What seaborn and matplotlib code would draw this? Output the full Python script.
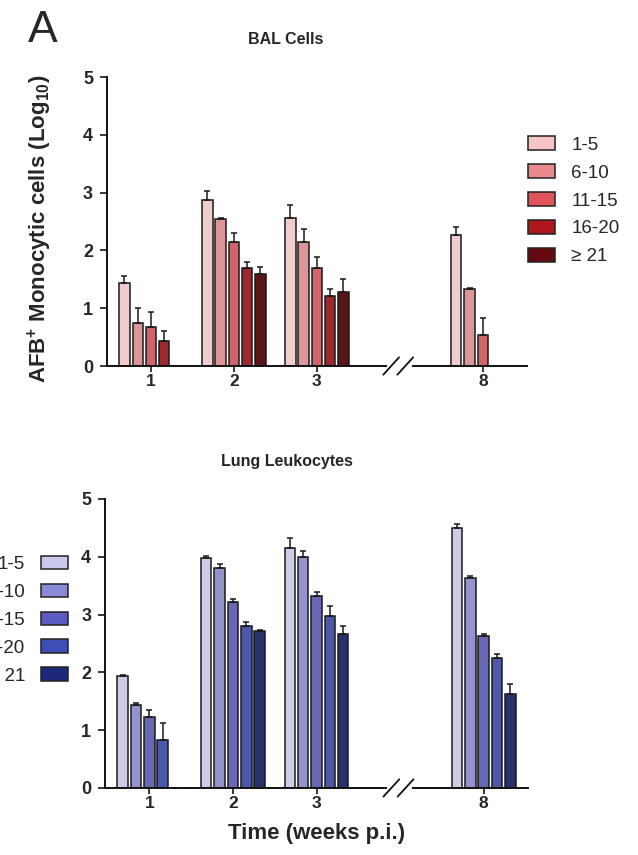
import numpy as np
import pandas as pd
import matplotlib
matplotlib.use("Agg")
import matplotlib.pyplot as plt
from matplotlib.patches import Patch
import seaborn as sns

# x categories (weeks p.i.) and AFB count groups
weeks = ["1", "2", "3", "8"]
groups = ["1-5", "6-10", "11-15", "16-20", "≥ 21"]

# rows = week, cols = group, nan = no bar
bal_mean = [
    [1.44, 0.74, 0.68, 0.44, np.nan],
    [2.88, 2.54, 2.15, 1.69, 1.59],
    [2.56, 2.15, 1.70, 1.21, 1.28],
    [2.27, 1.33, 0.53, np.nan, np.nan],
]
bal_sem = [
    [0.12, 0.26, 0.25, 0.16, np.nan],
    [0.14, 0.02, 0.15, 0.11, 0.13],
    [0.23, 0.22, 0.19, 0.13, 0.23],
    [0.13, 0.02, 0.30, np.nan, np.nan],
]
lung_mean = [
    [1.93, 1.43, 1.22, 0.83, np.nan],
    [3.98, 3.80, 3.22, 2.81, 2.72],
    [4.16, 4.00, 3.32, 2.97, 2.67],
    [4.50, 3.64, 2.63, 2.25, 1.62],
]
lung_sem = [
    [0.02, 0.04, 0.13, 0.30, np.nan],
    [0.03, 0.07, 0.05, 0.07, 0.01],
    [0.16, 0.10, 0.07, 0.18, 0.13],
    [0.06, 0.03, 0.04, 0.07, 0.18],
]

reds = ["#F6C6C6", "#E88A8C", "#E0545A", "#B0161E", "#650A0E"]
blues = ["#C8C8EA", "#8A8AD6", "#5A5CC2", "#3E4EB6", "#1E2878"]

# empty slot before week 8 for the axis break
order = ["1", "2", "3", "gap", "8"]

sns.set_style("ticks")
plt.rcParams["font.family"] = ["Liberation Sans", "DejaVu Sans"]
plt.rcParams["mathtext.fontset"] = "custom"
plt.rcParams["mathtext.bf"] = "Liberation Sans:bold"
plt.rcParams["mathtext.rm"] = "Liberation Sans:bold"
plt.rcParams["mathtext.default"] = "bf"


def long_table(mean, sem):
    rows = []
    for i, w in enumerate(weeks):
        for j, g in enumerate(groups):
            rows.append({"week": w, "group": g, "value": mean[i][j], "sem": sem[i][j]})
    return pd.DataFrame(rows).dropna()


def draw_panel(ax, mean, sem, colors):
    df = long_table(mean, sem)
    sns.barplot(data=df, x="week", y="value", hue="group", order=order,
                hue_order=groups, palette=colors, width=0.8, gap=0.22,
                edgecolor="#1a1a1a", linewidth=1.1, errorbar=None,
                legend=False, ax=ax)

    # one-sided SEM bars on top of each bar
    bar_containers = list(ax.containers)
    for cont, g in zip(bar_containers, groups):
        for bar in cont:
            xc = bar.get_x() + bar.get_width() / 2
            wk = order[int(round(xc))]
            e = df.loc[(df["week"] == wk) & (df["group"] == g), "sem"].iloc[0]
            ax.errorbar(xc, bar.get_height(), yerr=[[0], [e]], color="#1a1a1a",
                        elinewidth=1.1, capsize=2.5, capthick=1.1, zorder=3)

    ax.set_ylim(0, 5)
    ax.set_yticks(range(6))
    ax.set_xlim(-0.53, 4.53)
    ax.set_xticks([0, 1, 2, 4])
    ax.set_xticklabels(weeks)
    ax.set_xlabel("")
    ax.set_ylabel("")
    sns.despine(ax=ax)
    for s in ["left", "bottom"]:
        ax.spines[s].set_linewidth(1.4)
        ax.spines[s].set_color("#111111")
    ax.tick_params(axis="y", length=5, width=1.3, pad=5, labelsize=13)
    ax.tick_params(axis="x", length=4, width=1.3, pad=2, labelsize=12.5)
    for lab in ax.get_xticklabels() + ax.get_yticklabels():
        lab.set_fontweight("bold")

    # axis break //
    tr = ax.get_xaxis_transform()
    ax.plot([2.87, 3.12], [0, 0], color="white", lw=3, transform=tr,
            clip_on=False, zorder=5)
    for x0 in [2.80, 2.97]:
        ax.plot([x0, x0 + 0.19], [-0.03, 0.03], color="#111111", lw=1.3,
                transform=tr, clip_on=False, zorder=6)


fig = plt.figure(figsize=(6.38, 8.55), dpi=100)
ax1 = fig.add_axes([0.1677, 0.5719, 0.658, 0.338])
ax2 = fig.add_axes([0.1646, 0.0784, 0.663, 0.338])

draw_panel(ax1, bal_mean, bal_sem, reds)
draw_panel(ax2, lung_mean, lung_sem, blues)

ax1.set_title("BAL Cells", fontsize=11.5, fontweight="bold", x=0.426, y=1.085)
ax2.set_title("Lung Leukocytes", fontsize=11.5, fontweight="bold", x=0.43, y=1.085)

ax1.set_ylabel(r"AFB$^{+}$ Monocytic cells (Log$_{10}$)", fontsize=16,
               fontweight="bold")
ax1.yaxis.set_label_coords(-0.127, 0.475)
ax2.set_xlabel("Time (weeks p.i.)", fontsize=16, fontweight="bold")
ax2.xaxis.set_label_coords(0.5, -0.122)

fig.text(0.044, 0.9509, "A", fontsize=32, va="baseline", ha="left")

# legends (top: right of panel, bottom: left of panel and cut off)
h_red = [Patch(facecolor=c, edgecolor="#222222", linewidth=1.1) for c in reds]
h_blue = [Patch(facecolor=c, edgecolor="#222222", linewidth=1.1) for c in blues]
leg_kw = dict(frameon=False, fontsize=13.5, handlelength=1.45, handleheight=0.75,
              labelspacing=0.56, handletextpad=0.85, borderpad=0, borderaxespad=0)
fig.legend(h_red, groups, loc="upper left", bbox_to_anchor=(0.8276, 0.8405), **leg_kw)
fig.legend(h_blue, groups, loc="upper right", bbox_to_anchor=(0.1066, 0.350),
           markerfirst=False, **leg_kw)

fig.savefig("out.png", dpi=100)
